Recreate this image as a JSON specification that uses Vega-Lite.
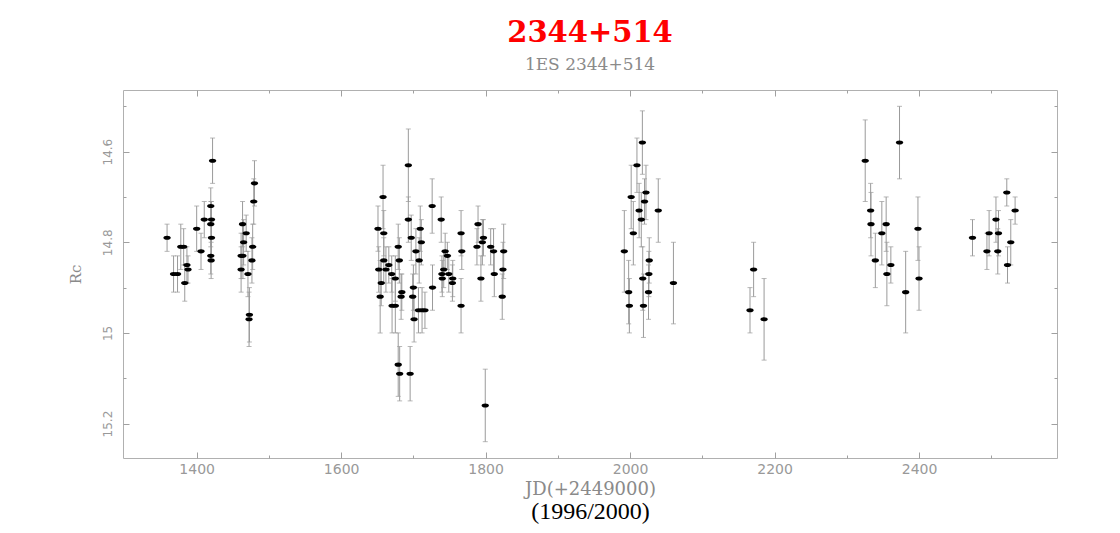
{
"$schema": "https://vega.github.io/schema/vega-lite/v6.json",
"width": 934, "height": 368,
"autosize": {"type": "none"},
"padding": {"left": 123, "top": 90, "right": 63, "bottom": 75},
"background": "white",
"title": {"text": "2344+514", "subtitle": "1ES 2344+514", "anchor": "middle", "font": "DejaVu Serif", "fontSize": 29, "fontWeight": "bold", "color": "#ff0000", "subtitleFont": "DejaVu Serif", "subtitleFontSize": 17, "subtitleColor": "#8a8a8a", "offset": 17, "subtitlePadding": 9},
"data": {"values": [
{"x":1359,"y":14.79,"lo":14.76,"hi":14.82},
{"x":1368,"y":14.87,"lo":14.83,"hi":14.91},
{"x":1373.5,"y":14.87,"lo":14.83,"hi":14.91},
{"x":1378,"y":14.81,"lo":14.76,"hi":14.86},
{"x":1382,"y":14.81,"lo":14.77,"hi":14.85},
{"x":1383.5,"y":14.89,"lo":14.85,"hi":14.93},
{"x":1386.5,"y":14.85,"lo":14.81,"hi":14.89},
{"x":1388,"y":14.86,"lo":14.83,"hi":14.89},
{"x":1400,"y":14.77,"lo":14.72,"hi":14.82},
{"x":1406,"y":14.82,"lo":14.78,"hi":14.86},
{"x":1410.5,"y":14.75,"lo":14.71,"hi":14.79},
{"x":1419.5,"y":14.72,"lo":14.68,"hi":14.76},
{"x":1420.5,"y":14.75,"lo":14.71,"hi":14.79},
{"x":1419.5,"y":14.76,"lo":14.71,"hi":14.81},
{"x":1420.5,"y":14.79,"lo":14.75,"hi":14.83},
{"x":1419.5,"y":14.83,"lo":14.79,"hi":14.87},
{"x":1420,"y":14.84,"lo":14.80,"hi":14.88},
{"x":1422,"y":14.62,"lo":14.57,"hi":14.67},
{"x":1463.5,"y":14.76,"lo":14.71,"hi":14.81},
{"x":1461.5,"y":14.83,"lo":14.78,"hi":14.88},
{"x":1464,"y":14.83,"lo":14.78,"hi":14.88},
{"x":1461.5,"y":14.86,"lo":14.81,"hi":14.91},
{"x":1465,"y":14.80,"lo":14.75,"hi":14.85},
{"x":1468.5,"y":14.78,"lo":14.74,"hi":14.82},
{"x":1471,"y":14.87,"lo":14.82,"hi":14.92},
{"x":1473,"y":14.96,"lo":14.90,"hi":15.02},
{"x":1472.5,"y":14.97,"lo":14.91,"hi":15.03},
{"x":1476.5,"y":14.84,"lo":14.79,"hi":14.89},
{"x":1477.5,"y":14.81,"lo":14.76,"hi":14.86},
{"x":1479,"y":14.71,"lo":14.66,"hi":14.76},
{"x":1480,"y":14.67,"lo":14.62,"hi":14.72},
{"x":1651,"y":14.77,"lo":14.72,"hi":14.82},
{"x":1652,"y":14.86,"lo":14.81,"hi":14.91},
{"x":1655.5,"y":14.89,"lo":14.84,"hi":14.94},
{"x":1654,"y":14.92,"lo":14.84,"hi":15.00},
{"x":1658,"y":14.70,"lo":14.63,"hi":14.77},
{"x":1659,"y":14.78,"lo":14.73,"hi":14.83},
{"x":1659,"y":14.84,"lo":14.79,"hi":14.89},
{"x":1662,"y":14.86,"lo":14.81,"hi":14.91},
{"x":1666,"y":14.85,"lo":14.81,"hi":14.89},
{"x":1670,"y":14.87,"lo":14.83,"hi":14.91},
{"x":1670.5,"y":14.94,"lo":14.88,"hi":15.00},
{"x":1675,"y":14.94,"lo":14.88,"hi":15.00},
{"x":1675,"y":14.88,"lo":14.83,"hi":14.93},
{"x":1679,"y":14.81,"lo":14.76,"hi":14.86},
{"x":1680.5,"y":14.84,"lo":14.79,"hi":14.89},
{"x":1683,"y":14.92,"lo":14.87,"hi":14.97},
{"x":1684,"y":14.91,"lo":14.87,"hi":14.95},
{"x":1679,"y":15.07,"lo":15.00,"hi":15.14},
{"x":1681,"y":15.09,"lo":15.03,"hi":15.15},
{"x":1695.5,"y":15.09,"lo":15.03,"hi":15.15},
{"x":1693,"y":14.63,"lo":14.55,"hi":14.71},
{"x":1693,"y":14.75,"lo":14.70,"hi":14.80},
{"x":1697,"y":14.79,"lo":14.74,"hi":14.84},
{"x":1700,"y":14.90,"lo":14.85,"hi":14.95},
{"x":1699,"y":14.92,"lo":14.87,"hi":14.97},
{"x":1701,"y":14.97,"lo":14.92,"hi":15.02},
{"x":1703.5,"y":14.82,"lo":14.77,"hi":14.87},
{"x":1708,"y":14.84,"lo":14.79,"hi":14.89},
{"x":1709.5,"y":14.77,"lo":14.72,"hi":14.82},
{"x":1711,"y":14.80,"lo":14.75,"hi":14.85},
{"x":1707,"y":14.95,"lo":14.90,"hi":15.00},
{"x":1712,"y":14.95,"lo":14.90,"hi":15.00},
{"x":1716,"y":14.95,"lo":14.91,"hi":14.99},
{"x":1726,"y":14.72,"lo":14.66,"hi":14.78},
{"x":1726.5,"y":14.90,"lo":14.85,"hi":14.95},
{"x":1738.5,"y":14.75,"lo":14.70,"hi":14.80},
{"x":1739.5,"y":14.87,"lo":14.83,"hi":14.91},
{"x":1740,"y":14.88,"lo":14.84,"hi":14.92},
{"x":1742,"y":14.86,"lo":14.82,"hi":14.90},
{"x":1744,"y":14.82,"lo":14.78,"hi":14.86},
{"x":1747,"y":14.83,"lo":14.80,"hi":14.86},
{"x":1749,"y":14.87,"lo":14.83,"hi":14.91},
{"x":1754.5,"y":14.88,"lo":14.84,"hi":14.92},
{"x":1754,"y":14.89,"lo":14.85,"hi":14.93},
{"x":1766,"y":14.78,"lo":14.73,"hi":14.83},
{"x":1767,"y":14.82,"lo":14.78,"hi":14.86},
{"x":1766,"y":14.94,"lo":14.88,"hi":15.00},
{"x":1788,"y":14.81,"lo":14.77,"hi":14.85},
{"x":1789.5,"y":14.76,"lo":14.72,"hi":14.80},
{"x":1793.5,"y":14.88,"lo":14.83,"hi":14.93},
{"x":1795.5,"y":14.80,"lo":14.75,"hi":14.85},
{"x":1797,"y":14.79,"lo":14.75,"hi":14.83},
{"x":1799.5,"y":15.16,"lo":15.08,"hi":15.24},
{"x":1807,"y":14.81,"lo":14.77,"hi":14.85},
{"x":1811,"y":14.82,"lo":14.77,"hi":14.87},
{"x":1812,"y":14.87,"lo":14.82,"hi":14.92},
{"x":1823,"y":14.92,"lo":14.87,"hi":14.97},
{"x":1824,"y":14.86,"lo":14.80,"hi":14.92},
{"x":1825,"y":14.82,"lo":14.76,"hi":14.88},
{"x":1992,"y":14.82,"lo":14.73,"hi":14.91},
{"x":1998,"y":14.91,"lo":14.84,"hi":14.98},
{"x":1999,"y":14.94,"lo":14.88,"hi":15.00},
{"x":2001.5,"y":14.70,"lo":14.63,"hi":14.77},
{"x":2004.5,"y":14.78,"lo":14.71,"hi":14.85},
{"x":2009.5,"y":14.63,"lo":14.57,"hi":14.69},
{"x":2012.5,"y":14.73,"lo":14.67,"hi":14.79},
{"x":2015.5,"y":14.75,"lo":14.69,"hi":14.81},
{"x":2017,"y":14.58,"lo":14.51,"hi":14.65},
{"x":2020,"y":14.71,"lo":14.66,"hi":14.76},
{"x":2022,"y":14.69,"lo":14.63,"hi":14.75},
{"x":2017.5,"y":14.88,"lo":14.81,"hi":14.95},
{"x":2018.5,"y":14.94,"lo":14.87,"hi":15.01},
{"x":2026.5,"y":14.84,"lo":14.79,"hi":14.89},
{"x":2026,"y":14.87,"lo":14.82,"hi":14.92},
{"x":2025.5,"y":14.91,"lo":14.85,"hi":14.97},
{"x":2039,"y":14.73,"lo":14.66,"hi":14.80},
{"x":2060,"y":14.89,"lo":14.80,"hi":14.98},
{"x":2166,"y":14.95,"lo":14.90,"hi":15.00},
{"x":2171,"y":14.86,"lo":14.80,"hi":14.92},
{"x":2185.5,"y":14.97,"lo":14.88,"hi":15.06},
{"x":2325.5,"y":14.62,"lo":14.53,"hi":14.71},
{"x":2333,"y":14.73,"lo":14.67,"hi":14.79},
{"x":2333.5,"y":14.76,"lo":14.69,"hi":14.83},
{"x":2339.5,"y":14.84,"lo":14.78,"hi":14.90},
{"x":2348.5,"y":14.78,"lo":14.71,"hi":14.85},
{"x":2354.5,"y":14.76,"lo":14.70,"hi":14.82},
{"x":2355.5,"y":14.87,"lo":14.80,"hi":14.94},
{"x":2361,"y":14.85,"lo":14.81,"hi":14.89},
{"x":2373,"y":14.58,"lo":14.50,"hi":14.66},
{"x":2381.5,"y":14.91,"lo":14.82,"hi":15.00},
{"x":2398.5,"y":14.77,"lo":14.70,"hi":14.84},
{"x":2400,"y":14.88,"lo":14.81,"hi":14.95},
{"x":2474,"y":14.79,"lo":14.75,"hi":14.83},
{"x":2494,"y":14.82,"lo":14.78,"hi":14.86},
{"x":2497,"y":14.78,"lo":14.73,"hi":14.83},
{"x":2506.5,"y":14.75,"lo":14.70,"hi":14.80},
{"x":2510,"y":14.78,"lo":14.73,"hi":14.83},
{"x":2509,"y":14.82,"lo":14.77,"hi":14.87},
{"x":2521.5,"y":14.69,"lo":14.66,"hi":14.72},
{"x":2522.5,"y":14.85,"lo":14.81,"hi":14.89},
{"x":2527,"y":14.80,"lo":14.75,"hi":14.85},
{"x":2533,"y":14.73,"lo":14.70,"hi":14.76}
]},
"layer": [
{"mark": {"type": "rule", "color": "#9a9a9a", "strokeWidth": 1},
 "encoding": {
  "x": {"field": "x", "type": "quantitative", "scale": {"domain": [1298, 2591], "nice": false, "zero": false},
        "axis": {"orient": "bottom", "values": [1400,1600,1800,2000,2200,2400], "format": "d", "tickSize": -6, "labelPadding": 10, "title": "JD(+2449000)", "titlePadding": 4, "titleFontSize": 18}},
  "y": {"field": "lo", "type": "quantitative", "scale": {"domain": [14.464, 15.276], "nice": false, "zero": false, "reverse": true},
        "axis": {"orient": "left", "values": [14.6,14.8,15,15.2], "format": "~g", "tickSize": -6, "labelAngle": -90, "labelAlign": "center", "labelBaseline": "bottom", "labelPadding": 15, "labelFontSize": 12, "title": "Rc", "titlePadding": 18}},
  "y2": {"field": "hi"}
 }},
{"mark": {"type": "tick", "orient": "horizontal", "color": "#9a9a9a", "size": 5, "thickness": 1},
 "encoding": {
  "x": {"field": "x", "type": "quantitative", "scale": {"domain": [1298, 2591], "nice": false, "zero": false},
        "axis": {"orient": "top", "values": [1400,1600,1800,2000,2200,2400], "tickSize": -6, "labels": false, "title": null}},
  "y": {"field": "lo", "type": "quantitative", "scale": {"domain": [14.464, 15.276], "nice": false, "zero": false, "reverse": true},
        "axis": {"orient": "right", "values": [14.6,14.8,15,15.2], "tickSize": -6, "labels": false, "title": null}}
 }},
{"mark": {"type": "tick", "orient": "horizontal", "color": "#9a9a9a", "size": 5, "thickness": 1},
 "encoding": {
  "x": {"field": "x", "type": "quantitative", "scale": {"domain": [1298, 2591], "nice": false, "zero": false},
        "axis": {"orient": "bottom", "values": [1500,1700,1900,2100,2300,2500], "tickSize": -3, "labels": false, "title": "(1996/2000)", "titleColor": "#000000", "titleFont": "Liberation Serif", "titleFontSize": 24, "titlePadding": 41}},
  "y": {"field": "hi", "type": "quantitative", "scale": {"domain": [14.464, 15.276], "nice": false, "zero": false, "reverse": true},
        "axis": {"orient": "left", "values": [14.5,14.7,14.9,15.1], "tickSize": -3, "labels": false, "title": null}}
 }},
{"mark": {"type": "point", "shape": "M-1,0A1,0.55,0,1,1,1,0A1,0.55,0,1,1,-1,0Z", "filled": true, "color": "#000000", "opacity": 1, "size": 55, "strokeWidth": 0},
 "encoding": {
  "x": {"field": "x", "type": "quantitative", "scale": {"domain": [1298, 2591], "nice": false, "zero": false},
        "axis": {"orient": "top", "values": [1500,1700,1900,2100,2300,2500], "tickSize": -3, "labels": false, "title": null}},
  "y": {"field": "y", "type": "quantitative", "scale": {"domain": [14.464, 15.276], "nice": false, "zero": false, "reverse": true},
        "axis": {"orient": "right", "values": [14.5,14.7,14.9,15.1], "tickSize": -3, "labels": false, "title": null}}
 }}
],
"resolve": {"axis": {"x": "independent", "y": "independent"}},
"config": {
 "view": {"stroke": "#b0b0b0", "strokeWidth": 1},
 "axis": {"domain": false, "grid": false, "tickColor": "#a0a0a0", "tickWidth": 1, "labelColor": "#999999", "labelFont": "DejaVu Sans", "labelFontSize": 14, "titleColor": "#8a8a8a", "titleFont": "DejaVu Serif", "titleFontWeight": "normal", "titleFontSize": 15}
}
}
